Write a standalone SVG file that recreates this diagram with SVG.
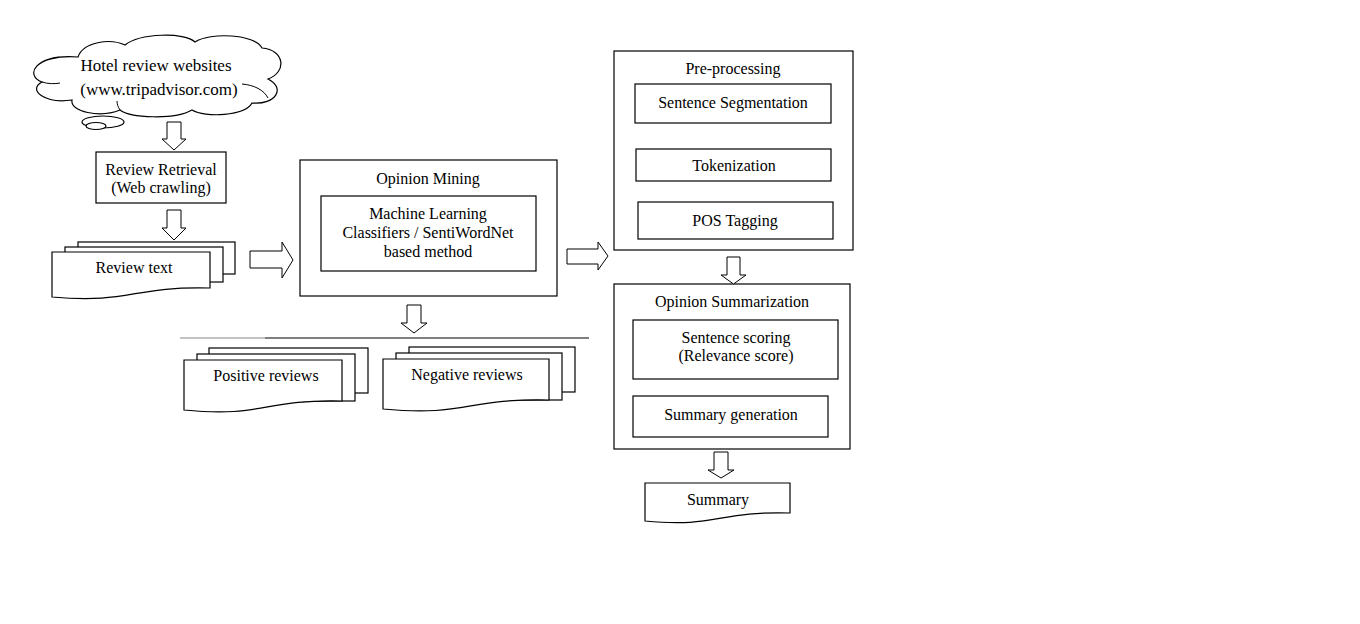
<svg xmlns="http://www.w3.org/2000/svg" width="1360" height="624" viewBox="0 0 1360 624">
<style>
  .b{fill:#fff;stroke:#000;stroke-width:1.2}
  .t{font-family:"Liberation Serif","Times New Roman",serif;font-size:16px;fill:#000;text-anchor:middle}
  .ar{fill:#fff;stroke:#000;stroke-width:1}
  .ln{fill:none;stroke:#000;stroke-width:1}
</style>
<rect width="1360" height="624" fill="#fff"/>

<g id="cloud">
  <path class="b" d="M78,57 C83,42 110,38 125,45 C140,33 185,32 195,42 C210,32 255,34 262,48 C285,50 287,72 268,79 C286,88 276,105 252,103 C245,116 205,118 192,110 C175,120 130,118 120,110 C100,118 70,112 72,100 C45,104 27,90 42,82 C25,76 33,54 78,57 Z"/>
  <path class="ln" d="M242,84 C254,85 264,90 268,98"/>
  <path class="ln" d="M42,82 C48,84 55,84 60,83"/>
  <path class="ln" d="M120,110 C118,107 117,104 117,101"/>
  <ellipse class="b" cx="103" cy="122" rx="21" ry="6"/>
  <ellipse class="b" cx="96" cy="126" rx="10" ry="3.5"/>
  <text class="t" x="156" y="71" style="font-size:17px">Hotel review websites</text>
  <text class="t" x="159" y="95" style="font-size:17px">(www.tripadvisor.com)</text>
</g>

<g id="review-retrieval">
  <rect class="b" x="96" y="152" width="130" height="51"/>
  <text class="t" x="161" y="175">Review Retrieval</text>
  <text class="t" x="161" y="193">(Web crawling)</text>
</g>

<g id="review-text">
  <rect class="b" x="78" y="242" width="157" height="32"/>
  <rect class="b" x="65" y="247" width="158" height="35"/>
  <path class="b" d="M52,252 H210 V288 C131,286 131,304 52,297 Z"/>
  <text class="t" x="134" y="273">Review text</text>
</g>

<g id="opinion-mining">
  <rect class="b" x="300" y="160" width="257" height="136"/>
  <text class="t" x="428" y="184">Opinion Mining</text>
  <rect class="b" x="321" y="196" width="215" height="75"/>
  <text class="t" x="428" y="219">Machine Learning</text>
  <text class="t" x="428" y="238">Classifiers / SentiWordNet</text>
  <text class="t" x="428" y="257">based method</text>
</g>

<g id="positive-reviews">
  <rect class="b" x="209" y="348" width="159" height="45"/>
  <rect class="b" x="197" y="354" width="158" height="47"/>
  <path class="b" d="M184,360 H342 V401 C263,399 263,418 184,410 Z"/>
  <text class="t" x="266" y="381">Positive reviews</text>
</g>

<g id="negative-reviews">
  <rect class="b" x="409" y="347" width="166" height="45"/>
  <rect class="b" x="396" y="353" width="166" height="47"/>
  <path class="b" d="M383,359 H549 V400 C466,398 466,417 383,409 Z"/>
  <text class="t" x="467" y="380">Negative reviews</text>
</g>

<g id="pre-processing">
  <rect class="b" x="614" y="51" width="239" height="199"/>
  <text class="t" x="733" y="74">Pre-processing</text>
  <rect class="b" x="635" y="84" width="196" height="39"/>
  <text class="t" x="733" y="108">Sentence Segmentation</text>
  <rect class="b" x="636" y="149" width="195" height="32"/>
  <text class="t" x="734" y="171">Tokenization</text>
  <rect class="b" x="638" y="202" width="195" height="37"/>
  <text class="t" x="735" y="226">POS Tagging</text>
</g>

<g id="opinion-summarization">
  <rect class="b" x="614" y="284" width="236" height="165"/>
  <text class="t" x="732" y="307">Opinion Summarization</text>
  <rect class="b" x="633" y="320" width="205" height="59"/>
  <text class="t" x="736" y="343">Sentence scoring</text>
  <text class="t" x="736" y="361">(Relevance score)</text>
  <rect class="b" x="633" y="396" width="195" height="41"/>
  <text class="t" x="731" y="420">Summary generation</text>
</g>

<g id="summary">
  <path class="b" d="M645,483 H790 V513 C717,511 717,528 645,521 Z"/>
  <text class="t" x="718" y="505">Summary</text>
</g>

<g id="connectors">
  <path class="ar" d="M167,122 H181 V139 H186 L174,150 L162,139 H167 Z"/>
  <path class="ar" d="M167,210 H181 V228 H186 L174,240 L162,228 H167 Z"/>
  <path class="ar" d="M250,251 H282 V242 L293,260 L282,278 V268 H250 Z"/>
  <path class="ar" d="M407,305 H421 V323 H427 L414,333 L401,323 H407 Z"/>
  <path class="ar" d="M567,249 H598 V242 L608,256 L598,270 V264 H567 Z"/>
  <path class="ar" d="M727,257 H740 V275 H746 L733.5,284 L721,275 H727 Z"/>
  <path class="ar" d="M714,452 H728 V470 H734 L721,478 L708,470 H714 Z"/>
  <line x1="180" y1="338" x2="265" y2="338" stroke="#888" stroke-width="1.2"/>
  <line x1="265" y1="338" x2="589" y2="338" stroke="#000" stroke-width="1.2"/>
</g>
</svg>
